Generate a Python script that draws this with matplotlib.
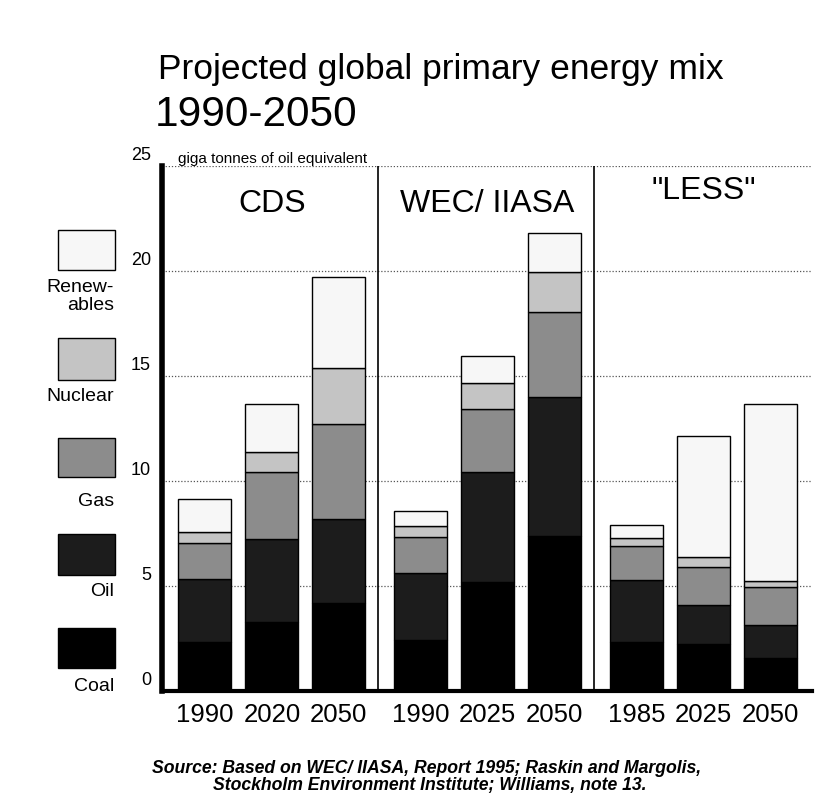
import matplotlib
matplotlib.use("Agg")
import matplotlib.pyplot as plt
from matplotlib.patches import Rectangle
import numpy as np

# ---- data (giga tonnes of oil equivalent) ----
groups = ["CDS", "WEC/ IIASA", '"LESS"']
years = [["1990", "2020", "2050"], ["1990", "2025", "2050"], ["1985", "2025", "2050"]]
sources = ["Coal", "Oil", "Gas", "Nuclear", "Renewables"]
coal       = [2.35, 3.3, 4.18, 2.43, 5.2, 7.38, 2.35, 2.24, 1.56]
oil        = [2.97, 3.92, 4.01, 3.17, 5.24, 6.61, 2.94, 1.86, 1.58]
gas        = [1.71, 3.22, 4.52, 1.72, 2.97, 4.07, 1.61, 1.79, 1.83]
nuclear    = [0.56, 0.96, 2.66, 0.54, 1.24, 1.88, 0.40, 0.48, 0.28]
renewables = [1.54, 2.25, 4.36, 0.71, 1.30, 1.85, 0.60, 5.77, 8.42]
yticks = [0, 5, 10, 15, 20, 25]

colors = ["#000000", "#1c1c1c", "#8c8c8c", "#c4c4c4", "#f7f7f7"]
legend_labels = ["Coal", "Oil", "Gas", "Nuclear", "Renew-\nables"]

W, H = 828, 809
fig = plt.figure(figsize=(W / 100, H / 100), dpi=100)
fig.patch.set_facecolor("white")
FONT = "Liberation Sans"

def fx(px):
    return px / W

def fy(py):
    return 1 - py / H

# axes: left spine x=162, right 812, top y=166 (25), bottom y=691 (0)
ax = fig.add_axes([fx(162), fy(691), fx(812) - fx(162), fy(166) - fy(691)])
ax.set_facecolor("white")

gap = 3.22
positions = []
for g in range(3):
    for i in range(3):
        positions.append(g * gap + i)
positions = np.array(positions)

series = [coal, oil, gas, nuclear, renewables]
bottom = np.zeros(len(positions))
for vals, c in zip(series, colors):
    ax.bar(positions, vals, bottom=bottom, width=0.79, color=c,
           edgecolor="black", linewidth=1.0, zorder=3)
    bottom += np.array(vals)

ax.set_xlim(-0.64, 9.06)
ax.set_ylim(0, 25)

# gridlines
for t in yticks[1:]:
    ax.axhline(t, color="#555555", linestyle=(0, (1, 1.5)), linewidth=0.9, zorder=1)

# group separators
for g in range(1, 3):
    xsep = g * gap - 0.64
    ax.axvline(xsep, color="black", linewidth=1.2, zorder=2)

for s in ["top", "right"]:
    ax.spines[s].set_visible(False)
ax.spines["left"].set_linewidth(4)
ax.spines["bottom"].set_linewidth(3)
ax.set_yticks([])
ax.set_xticks(positions)
ax.set_xticklabels([y for grp in years for y in grp], fontsize=18.5, family=FONT)
ax.tick_params(axis="x", length=0, pad=9)

# group titles
group_y = [23.2, 23.2, 23.8]
for g, name in enumerate(groups):
    ax.text(g * gap + 1, group_y[g], name, ha="center", va="center", fontsize=23,
            family=FONT, zorder=5)

# y tick labels (above gridlines)
for t in yticks:
    ypix = 691 - 21 * t
    fig.text(fx(151), fy(ypix - 2), str(t), ha="right", va="bottom",
             fontsize=13, family=FONT)

fig.text(fx(178), fy(163), "giga tonnes of oil equivalent", ha="left", va="baseline",
         fontsize=11, family=FONT)

# title
fig.text(fx(158), fy(79), "Projected global primary energy mix", ha="left",
         va="baseline", fontsize=25.5, family=FONT)
fig.text(fx(155), fy(126), "1990-2050", ha="left", va="baseline",
         fontsize=30.5, family=FONT)

# legend boxes
boxes = [(628, 668), (534, 575), (438, 477), (338, 380), (230, 270)]
label_base = [691, 596, 506, 401, 292]
for (top, bot), c, lab, lb in zip(boxes, colors, legend_labels, label_base):
    r = Rectangle((fx(58), fy(bot)), fx(115) - fx(58), fy(top) - fy(bot),
                  transform=fig.transFigure, facecolor=c, edgecolor="black",
                  linewidth=1.0)
    fig.patches.append(r)
    lines = lab.split("\n")
    for k, ln in enumerate(lines):
        fig.text(fx(114), fy(lb + 18 * k), ln, ha="right", va="baseline",
                 fontsize=14, family=FONT)

# source
fig.text(fx(427), fy(773), "Source: Based on WEC/ IIASA, Report 1995; Raskin and Margolis,",
         ha="center", va="baseline", fontsize=12.7, style="italic", weight="bold",
         family=FONT)
fig.text(fx(430), fy(790), "Stockholm Environment Institute; Williams, note 13.",
         ha="center", va="baseline", fontsize=12.7, style="italic", weight="bold",
         family=FONT)

fig.savefig("out.png", dpi=100)
